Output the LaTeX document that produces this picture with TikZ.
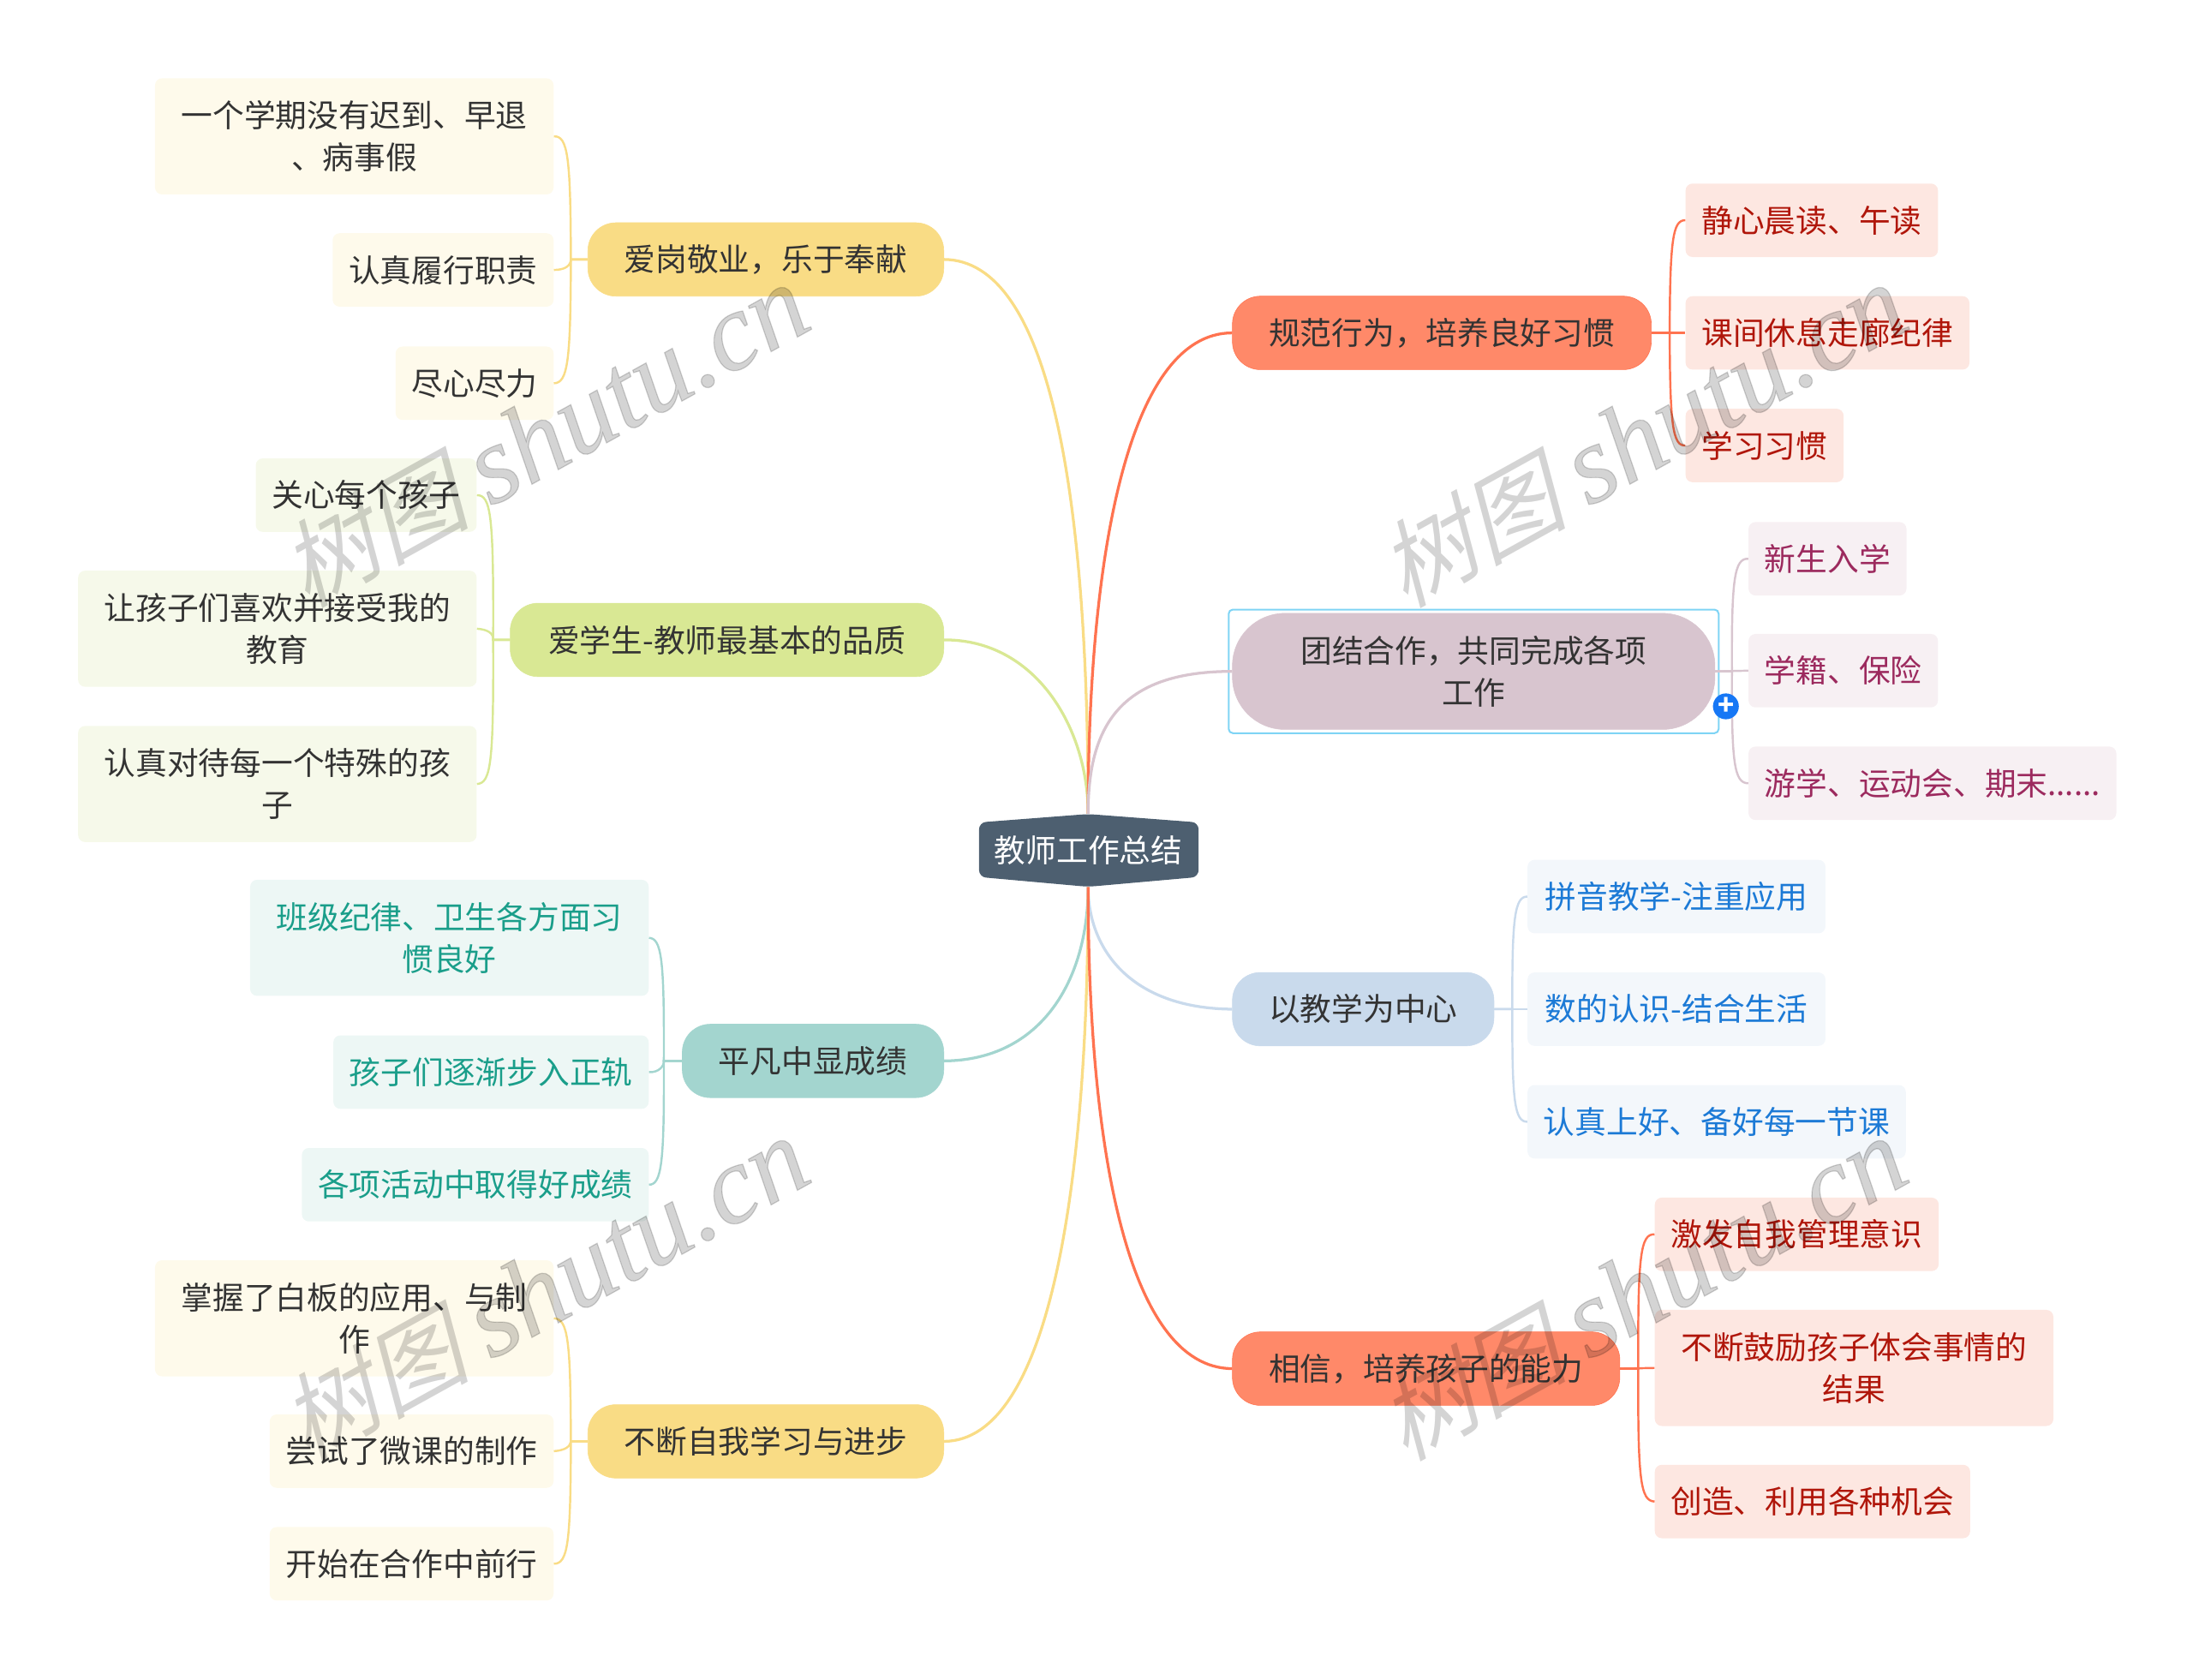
\documentclass[tikz,border=0pt]{standalone}
\usepackage{fontspec}
\setmainfont{Noto Sans CJK SC}
\newfontfamily\latinmark[FakeBold=1]{Liberation Serif}
\newfontfamily\hanmark[FakeSlant=0.25]{Noto Sans CJK SC}
\usetikzlibrary{fit}
\definecolor{inkdark}{HTML}{333333}
\definecolor{rootfill}{HTML}{4D5F70}
\definecolor{goldline}{HTML}{F9DC85}
\definecolor{goldpale}{HTML}{FEFAEB}
\definecolor{limeline}{HTML}{D9E894}
\definecolor{limepale}{HTML}{F6F9EA}
\definecolor{tealline}{HTML}{A3D5CF}
\definecolor{tealpale}{HTML}{EDF7F5}
\definecolor{tealtext}{HTML}{1A9E8A}
\definecolor{redline}{HTML}{FF7350}
\definecolor{redfill}{HTML}{FF8969}
\definecolor{redpale}{HTML}{FDE7E1}
\definecolor{redtext}{HTML}{B0160A}
\definecolor{plumline}{HTML}{D8C5CF}
\definecolor{plumpale}{HTML}{F7F0F3}
\definecolor{plumtext}{HTML}{9C2A5E}
\definecolor{blueline}{HTML}{C9DAEC}
\definecolor{bluepale}{HTML}{F3F7FB}
\definecolor{bluetext}{HTML}{1C7AD6}
\definecolor{frameblue}{HTML}{7FD4F5}
\definecolor{plusblue}{HTML}{1677F5}
\newcommand{\stamptext}{{\hanmark\fontsize{77}{77}\selectfont 树图}\hspace{17pt}{\latinmark\itshape\fontsize{90}{90}\selectfont shutu.cn}}

\begin{document}
\begin{tikzpicture}[x=0.04cm,y=-0.04cm,
    every node/.style={font=\fontsize{25.6}{34.1}\selectfont,align=center,text=inkdark},
    main node/.style={rounded corners=0.8cm,minimum height=2.1cm,inner xsep=1.04cm,inner ysep=0pt},
    gold node/.style={main node,fill=goldline,draw=goldline},
    lime node/.style={main node,fill=limeline,draw=limeline},
    teal node/.style={main node,fill=tealline,draw=tealline},
    red node/.style={main node,fill=redfill,draw=redline},
    plum node/.style={main node,fill=plumline,draw=plumline},
    blue node/.style={main node,fill=blueline,draw=blueline},
    side node/.style={rounded corners=0.2cm,minimum height=2.1cm,inner xsep=0.46cm,inner ysep=0pt},
    long/.style={minimum height=3.32cm,inner xsep=0.75cm},
    gold side/.style={side node,fill=goldpale},
    lime side/.style={side node,fill=limepale},
    teal side/.style={side node,fill=tealpale,text=tealtext},
    red side/.style={side node,fill=redpale,text=redtext},
    plum side/.style={side node,fill=plumpale,text=plumtext},
    blue side/.style={side node,fill=bluepale,text=bluetext},
    link/.style={line width=0.08cm},
    twig/.style={line width=0.06cm},
    stamp/.style={rotate=29,text=black,opacity=0.17}]

    \useasboundingbox (0,0) rectangle (1568,1201);

    \fill[rootfill,rounded corners=0.2cm] (700,588) -- (778,582) -- (857,588) -- (857,627) -- (778,634) -- (700,627) -- cycle;
    \node (root) [minimum width=6.28cm,minimum height=2.08cm,inner sep=0pt,text=white] at (778,608) {教师工作总结};

    \node (duty) [gold node,anchor=east] at (675,185.5) {爱岗敬业，乐于奉献};
    \node (care) [lime node,minimum width=12.4cm,anchor=east] at (675,457.5) {爱学生-教师最基本的品质};
    \node (plain) [teal node,anchor=east] at (675,758.5) {平凡中显成绩};
    \node (grow) [gold node,anchor=east] at (675,1030.5) {不断自我学习与进步};
    \node (habit) [red node,anchor=west] at (881,238) {规范行为，培养良好习惯};
    \node (team) [plum node,long,inner xsep=1.95cm,rounded corners=1.5cm,anchor=west] at (881,480) {团结合作，共同完成各项\\工作};
    \node (teach) [blue node,anchor=west] at (881,721.5) {以教学为中心};
    \node (trust) [red node,anchor=west] at (881,978.5) {相信，培养孩子的能力};

    \node (teamframe) [fit=(team),draw=frameblue,line width=0.05cm,rounded corners=0.12cm,inner sep=0.1cm] {};

    \node (d1) [gold side,long,anchor=east] at (396,97.5) {一个学期没有迟到、早退\\、病事假};
    \node (d2) [gold side,anchor=east] at (396,193) {认真履行职责};
    \node (d3) [gold side,anchor=east] at (396,274) {尽心尽力};

    \node (c1) [lime side,anchor=east] at (341,354) {关心每个孩子};
    \node (c2) [lime side,long,anchor=east] at (341,449.5) {让孩子们喜欢并接受我的\\教育};
    \node (c3) [lime side,long,anchor=east] at (341,560.5) {认真对待每一个特殊的孩\\子};

    \node (p1) [teal side,long,anchor=east] at (464,670.5) {班级纪律、卫生各方面习\\惯良好};
    \node (p2) [teal side,anchor=east] at (464,766.5) {孩子们逐渐步入正轨};
    \node (p3) [teal side,anchor=east] at (464,847) {各项活动中取得好成绩};

    \node (g1) [gold side,long,anchor=east] at (396,942.5) {掌握了白板的应用、与制\\作};
    \node (g2) [gold side,anchor=east] at (396,1037.5) {尝试了微课的制作};
    \node (g3) [gold side,anchor=east] at (396,1118) {开始在合作中前行};

    \node (h1) [red side,anchor=west] at (1205,157.5) {静心晨读、午读};
    \node (h2) [red side,anchor=west] at (1205,238) {课间休息走廊纪律};
    \node (h3) [red side,anchor=west] at (1205,318.5) {学习习惯};

    \node (t1) [plum side,anchor=west] at (1250,399.5) {新生入学};
    \node (t2) [plum side,anchor=west] at (1250,479.5) {学籍、保险};
    \node (t3) [plum side,anchor=west] at (1250,560) {游学、运动会、期末......};

    \node (e1) [blue side,minimum width=8.52cm,anchor=west] at (1092,641) {拼音教学-注重应用};
    \node (e2) [blue side,minimum width=8.52cm,anchor=west] at (1092,721.5) {数的认识-结合生活};
    \node (e3) [blue side,anchor=west] at (1092,802) {认真上好、备好每一节课};

    \node (r1) [red side,anchor=west] at (1183,882.5) {激发自我管理意识};
    \node (r2) [red side,long,anchor=west] at (1183,978) {不断鼓励孩子体会事情的\\结果};
    \node (r3) [red side,anchor=west] at (1183,1073.5) {创造、利用各种机会};

    \draw[link,goldline] (root.north) .. controls (778,350) and (750,186) .. (duty.east);
    \draw[link,limeline] (root.north) .. controls (778,520) and (740,457) .. (care.east);
    \draw[link,tealline] (root.south) .. controls (778,700) and (745,758) .. (plain.east);
    \draw[link,goldline] (root.south) .. controls (778,850) and (750,1030) .. (grow.east);
    \draw[link,redline] (root.north) .. controls (778,400) and (806,238) .. (habit.west);
    \draw[link,plumline] (root.north) .. controls (778,520) and (800,480) .. (team.west);
    \draw[link,blueline] (root.south) .. controls (778,680) and (810,721) .. (teach.west);
    \draw[link,redline] (root.south) .. controls (778,820) and (806,978) .. (trust.west);

    \draw[twig,goldline] (duty.west) -- +(-12,0) .. controls (408,112) and (406,97) .. (d1.east);
    \draw[twig,goldline] (duty.west) -- +(-12,0) .. controls (408,190) and (404,193) .. (d2.east);
    \draw[twig,goldline] (duty.west) -- +(-12,0) .. controls (408,258) and (406,274) .. (d3.east);

    \draw[twig,limeline] (care.west) -- +(-12,0) .. controls (353,368) and (351,354) .. (c1.east);
    \draw[twig,limeline] (care.west) -- +(-12,0) .. controls (353,453) and (349,450) .. (c2.east);
    \draw[twig,limeline] (care.west) -- +(-12,0) .. controls (353,546) and (351,560) .. (c3.east);

    \draw[twig,tealline] (plain.west) -- +(-13,0) .. controls (475,685) and (473,671) .. (p1.east);
    \draw[twig,tealline] (plain.west) -- +(-13,0) .. controls (475,762) and (471,767) .. (p2.east);
    \draw[twig,tealline] (plain.west) -- +(-13,0) .. controls (475,832) and (473,847) .. (p3.east);

    \draw[twig,goldline] (grow.west) -- +(-12,0) .. controls (408,957) and (406,943) .. (g1.east);
    \draw[twig,goldline] (grow.west) -- +(-12,0) .. controls (408,1034) and (404,1037) .. (g2.east);
    \draw[twig,goldline] (grow.west) -- +(-12,0) .. controls (408,1104) and (406,1118) .. (g3.east);

    \draw[twig,redline] (habit.east) -- +(13,0) .. controls (1194,172) and (1196,157) .. (h1.west);
    \draw[twig,redline] (habit.east) -- (h2.west);
    \draw[twig,redline] (habit.east) -- +(13,0) .. controls (1194,304) and (1196,319) .. (h3.west);

    \draw[twig,plumline] (team.east) -- +(12,0) .. controls (1238,414) and (1240,399) .. (t1.west);
    \draw[twig,plumline] (team.east) -- (t2.west);
    \draw[twig,plumline] (team.east) -- +(12,0) .. controls (1238,546) and (1240,560) .. (t3.west);

    \draw[twig,blueline] (teach.east) -- +(13,0) .. controls (1081,656) and (1083,641) .. (e1.west);
    \draw[twig,blueline] (teach.east) -- (e2.west);
    \draw[twig,blueline] (teach.east) -- +(13,0) .. controls (1081,788) and (1083,802) .. (e3.west);

    \draw[twig,redline] (trust.east) -- +(13,0) .. controls (1171,897) and (1173,882) .. (r1.west);
    \draw[twig,redline] (trust.east) -- (r2.west);
    \draw[twig,redline] (trust.east) -- +(13,0) .. controls (1171,1059) and (1173,1073) .. (r3.west);

    \node (plus) [circle,fill=plusblue,text=white,inner sep=0pt,minimum size=0.74cm,font=\bfseries\fontsize{22}{22}\selectfont] at (1234,505) {+};

    \node (stamp1) [stamp] at (389,312) {\stamptext};
    \node (stamp2) [stamp] at (1174,312) {\stamptext};
    \node (stamp3) [stamp] at (389,922) {\stamptext};
    \node (stamp4) [stamp] at (1174,922) {\stamptext};
\end{tikzpicture}
\end{document}
